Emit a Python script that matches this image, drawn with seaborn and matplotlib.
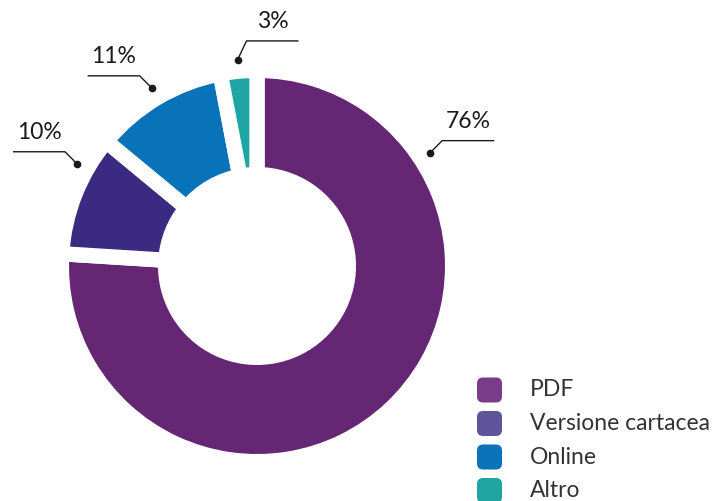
import numpy as np
import matplotlib.pyplot as plt
import seaborn as sns
from matplotlib.patches import FancyBboxPatch

# data
categories = ['PDF', 'Versione cartacea', 'Online', 'Altro']
shares = [76, 10, 11, 3]
pct_labels = ['76%', '10%', '11%', '3%']
slice_colors = ['#652673', '#3b2a82', '#0873b9', '#1ea6a4']
legend_colors = ['#7a3b8a', '#5f5499', '#0a73b9', '#1fa4a1']

sns.set_theme(style='white')
plt.rcParams['font.family'] = ['Lato', 'DejaVu Sans']

W, H = 718, 501
fig = plt.figure(figsize=(W / 100, H / 100), dpi=100)
ax = fig.add_axes([0, 0, 1, 1])

# donut geometry in pixel units (y up)
cx, cy = 257, H - 266
gap = 11  # white separator, pt
half = gap * 100 / 72 / 2
R = 188 + half
r_in = 99 - half

wedges, _ = ax.pie(shares, colors=slice_colors, startangle=90, counterclock=False,
                   radius=R, center=(cx, cy), frame=True,
                   wedgeprops=dict(width=R - r_in, edgecolor='white', linewidth=gap))
ax.set_xlim(0, W)
ax.set_ylim(0, H)
ax.set_aspect('equal')
ax.axis('off')

# leader lines
angle_shift = [80, -8, 0, 0]
elbow_dx = [12, -12, -12, 9]
elbow_dy = [12, 12, 12, 19]
arm = 52
for w, lab, sh, ex, ey in zip(wedges, pct_labels, angle_shift, elbow_dx, elbow_dy):
    ang = np.deg2rad((w.theta1 + w.theta2) / 2 + sh)
    x0 = cx + 207 * np.cos(ang)
    y0 = cy + 207 * np.sin(ang)
    x1, y1 = x0 + ex, y0 + ey
    x2 = x1 + arm * np.sign(ex)
    ax.plot([x0, x1, x2], [y0, y1, y1], color='#1a1a1a', lw=1.0, solid_capstyle='butt')
    ax.plot(x0, y0, 'o', color='#1a1a1a', ms=4.5)
    ax.text((x1 + x2) / 2, y1 + 13, lab, ha='center', va='baseline',
            fontsize=16.5, color='#1a1a1a')

# legend
for i, (name, col) in enumerate(zip(categories, legend_colors)):
    yc = H - (390 + 33.5 * i)
    ax.add_patch(FancyBboxPatch((477, yc - 12.5), 25, 25,
                                boxstyle='round,pad=0,rounding_size=6',
                                facecolor=col, edgecolor='none'))
    ax.text(530, yc, name, ha='left', va='center', fontsize=16.5,
            color='#333333')

fig.savefig('out.png', dpi=100)
